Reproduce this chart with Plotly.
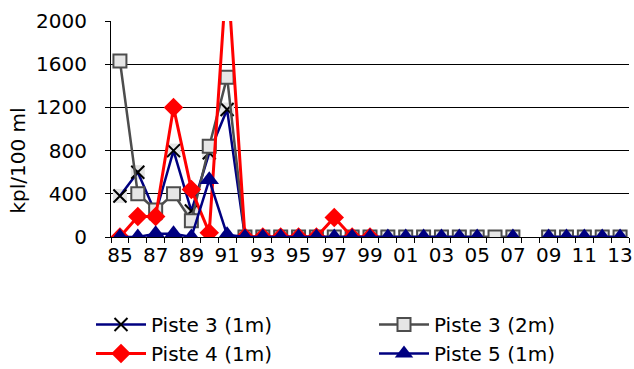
import plotly.graph_objects as go

# Sampling years (two-digit labels); 08 has no samples
years = ["85", "86", "87", "88", "89", "90", "91", "92", "93", "94", "95", "96",
         "97", "98", "99", "00", "01", "02", "03", "04", "05", "06", "07", "08",
         "09", "10", "11", "12", "13"]
tick_labels = [y if i % 2 == 0 else "" for i, y in enumerate(years)]
y_ticks = [0, 400, 800, 1200, 1600, 2000]

# Counts, kpl/100 ml
piste3_1m = [380, 600, 220, 800, 240, 780, 1180, 0, 0, 0, 0, 0, 0, 0, 0, 0, 0, 0,
             0, 0, 0, 0, 0, None, 0, 0, 0, 0, 0]
piste3_2m = [1630, 400, 250, 400, 150, 840, 1480, 0, 0, 0, 0, 0, 0, 0, 0, 0, 0, 0,
             0, 0, 0, 0, 0, None, 0, 0, 0, 0, 0]
piste4_1m = [0, 190, 190, 1200, 440, 40, 2500, 0, 0, 0, 0, 0, 180, 0, 0, None, None,
             None, None, None, None, None, None, None, None, None, None, None, None]
piste5_1m = [0, 0, 30, 30, 0, 530, 20, 0, 0, 0, 0, 0, 0, 0, 0, 0, 0, 0, 0, 0, 0,
             None, 0, None, 0, 0, 0, 0, 0]

FONT = "DejaVu Sans"
FS = 20

fig = go.Figure()
# light backing squares behind the cross markers
fig.add_trace(go.Scatter(
    x=years, y=piste3_1m, mode="markers", showlegend=False, hoverinfo="skip",
    marker=dict(symbol="square", size=14, color="#e4e4e4"),
))
fig.add_trace(go.Scatter(
    x=years, y=piste3_1m, name="Piste 3 (1m)", mode="lines+markers",
    line=dict(color="#000080", width=2.5),
    marker=dict(symbol="x-thin-open", size=13, color="#000000",
                line=dict(color="#000000", width=2)),
    legend="legend",
))
fig.add_trace(go.Scatter(
    x=years, y=piste3_2m, name="Piste 3 (2m)", mode="lines+markers",
    line=dict(color="#4d4d4d", width=2.5),
    marker=dict(symbol="square", size=13, color="#e6e6e6",
                line=dict(color="#4d4d4d", width=2)),
    legend="legend2",
))
fig.add_trace(go.Scatter(
    x=years, y=piste4_1m, name="Piste 4 (1m)", mode="lines+markers",
    line=dict(color="#ff0000", width=3),
    marker=dict(symbol="diamond", size=15, color="#ff0000"),
    legend="legend",
))
fig.add_trace(go.Scatter(
    x=years, y=piste5_1m, name="Piste 5 (1m)", mode="lines+markers",
    line=dict(color="#000080", width=2.5),
    marker=dict(symbol="triangle-up", size=17, color="#000080"),
    legend="legend2",
))

fig.add_annotation(
    text="kpl/100 ml", textangle=-90, showarrow=False,
    xref="paper", yref="paper", x=-0.179, y=0.355,
    xanchor="center", yanchor="middle",
    font=dict(family=FONT, size=FS, color="#000000"),
)

legend_style = dict(
    orientation="v", xref="container", yref="container",
    xanchor="left", yanchor="top", itemwidth=50,
    font=dict(family=FONT, size=FS, color="#000000"),
    bgcolor="rgba(0,0,0,0)", tracegroupgap=0,
)

fig.update_layout(
    width=634, height=369,
    margin=dict(l=111, r=5, t=21, b=132, autoexpand=False),
    paper_bgcolor="#ffffff", plot_bgcolor="#ffffff",
    font=dict(family=FONT, size=FS, color="#000000"),
    showlegend=True,
    legend=dict(x=91 / 634, y=1 - 305 / 369, **legend_style),
    legend2=dict(x=374 / 634, y=1 - 305 / 369, **legend_style),
    xaxis=dict(
        type="category", categoryorder="array", categoryarray=years,
        range=[-0.5, len(years) - 0.5],
        tickmode="array", tickvals=years, ticktext=tick_labels, tickangle=0,
        tickson="boundaries", ticks="outside", ticklen=5, tickcolor="#000000",
        showline=True, linecolor="#000000", linewidth=1,
        showgrid=False, zeroline=False, automargin=False,
        tickfont=dict(family=FONT, size=FS),
    ),
    yaxis=dict(
        range=[0, 2000], tickmode="array", tickvals=y_ticks,
        ticks="outside", ticklen=5, tickcolor="#000000",
        showline=True, linecolor="#000000", linewidth=1,
        showgrid=True, gridcolor="#000000", gridwidth=1,
        zeroline=False, ticklabelstandoff=14, automargin=False,
        tickfont=dict(family=FONT, size=FS),
    ),
)

fig.write_html("out.html")
